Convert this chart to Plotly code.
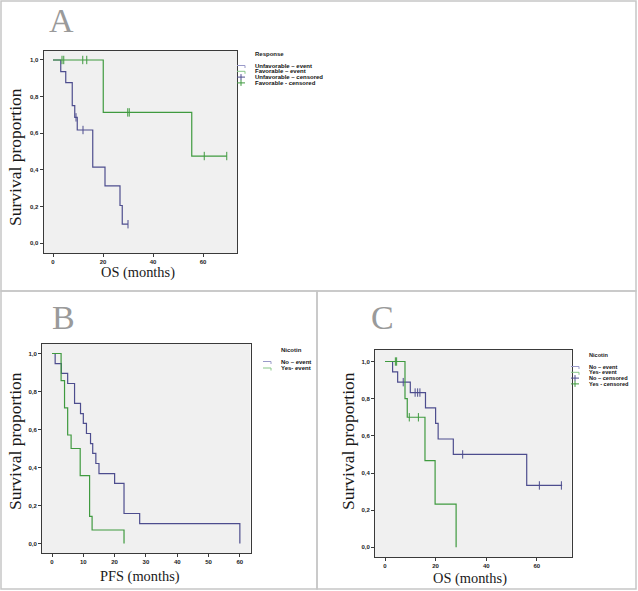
import plotly.graph_objects as go

W, H = 638, 591

# Panel A: OS by response
a_unfav_t = [0, 3.1, 5.1, 7.7, 8.7, 9.7, 15.9, 20.8, 26.8, 27.7, 30]
a_unfav_s = [1.0, 0.937, 0.876, 0.751, 0.687, 0.618, 0.415, 0.313, 0.206, 0.104, 0.104]
a_unfav_cens_t = [9.2, 12, 30]
a_unfav_cens_s = [0.687, 0.618, 0.104]
a_fav_t = [0, 20.1, 55.5, 69.5]
a_fav_s = [1.0, 0.714, 0.476, 0.476]
a_fav_cens_t = [3.6, 4.3, 11.9, 13.5, 29.9, 30.5, 60.5, 69.5]
a_fav_cens_s = [1.0, 1.0, 1.0, 1.0, 0.714, 0.714, 0.476, 0.476]

# Panel B: PFS by nicotin
b_no_t = [0, 1, 3, 5, 7.2, 9.1, 10, 11, 12.3, 13, 14, 15, 20, 23, 28, 60]
b_no_s = [1.0, 0.947, 0.895, 0.842, 0.737, 0.684, 0.632, 0.579, 0.526, 0.474,
          0.421, 0.368, 0.316, 0.158, 0.105, 0.0]
b_yes_t = [0, 2.9, 4, 5, 6.1, 9, 12, 12.8, 23]
b_yes_s = [1.0, 0.857, 0.714, 0.571, 0.5, 0.357, 0.143, 0.071, 0.0]

# Panel C: OS by nicotin
c_no_t = [0, 3, 5, 10, 16, 20, 21, 27, 56, 70]
c_no_s = [1.0, 0.944, 0.889, 0.833, 0.75, 0.667, 0.583, 0.5, 0.333, 0.333]
c_no_cens_t = [7.2, 11.9, 12.9, 13.8, 30.7, 61, 69.7]
c_no_cens_s = [0.889, 0.833, 0.833, 0.833, 0.5, 0.333, 0.333]
c_yes_t = [0, 7.9, 8.8, 15.8, 19.8, 28.1]
c_yes_s = [1.0, 0.8, 0.7, 0.467, 0.233, 0.0]
c_yes_cens_t = [4.1, 4.6, 9.6, 13.2]
c_yes_cens_s = [1.0, 1.0, 0.7, 0.7]

y_ticks = [0.0, 0.2, 0.4, 0.6, 0.8, 1.0]

legend_a = ["Unfavorable – event", "Favorable – event", "Unfavorable – censored", "Favorable - censored"]
legend_b = ["No – event", "Yes- event"]
legend_c = ["No – event", "Yes- event", "No – censored", "Yes - censored"]

BLUE = "#4d4d8e"
GREEN = "#3f9a3f"
BLUE_L = "#9a9ac9"
GREEN_L = "#88c788"


def px(x):
    return x / W


def py(y):
    return 1 - y / H


fig = go.Figure()


def add_curve(t, s, color, ax):
    fig.add_trace(go.Scatter(x=t, y=s, mode="lines", line=dict(color=color, width=1.2, shape="hv"),
                             xaxis="x" + ax, yaxis="y" + ax, showlegend=False, hoverinfo="skip"))


def add_cens(t, s, color, ax):
    fig.add_trace(go.Scatter(x=t, y=s, mode="markers",
                             marker=dict(symbol="line-ns-open", size=6, color=color,
                                         line=dict(color=color, width=1)),
                             xaxis="x" + ax, yaxis="y" + ax, showlegend=False, hoverinfo="skip"))


add_curve(a_unfav_t, a_unfav_s, BLUE, "")
add_curve(a_fav_t, a_fav_s, GREEN, "")
add_cens(a_unfav_cens_t, a_unfav_cens_s, BLUE, "")
add_cens(a_fav_cens_t, a_fav_cens_s, GREEN, "")

add_curve(b_no_t, b_no_s, BLUE, "2")
add_curve(b_yes_t, b_yes_s, GREEN, "2")

add_curve(c_no_t, c_no_s, BLUE, "3")
add_curve(c_yes_t, c_yes_s, GREEN, "3")
add_cens(c_no_cens_t, c_no_cens_s, BLUE, "3")
add_cens(c_yes_cens_t, c_yes_cens_s, GREEN, "3")

tick_font = dict(family="Liberation Sans", size=6, color="#222", weight="bold")


def axes(xdom, ydom, xr, yr, dtick):
    xa = dict(domain=[px(xdom[0]), px(xdom[1])], range=xr, dtick=dtick, tick0=0,
              showgrid=False, zeroline=False, showline=True, mirror=True,
              linecolor="#3a3a3a", linewidth=1, ticks="outside", ticklen=3,
              tickcolor="#3a3a3a", tickfont=tick_font, fixedrange=True)
    ya = dict(domain=[py(ydom[1]), py(ydom[0])], range=yr, tickvals=y_ticks,
              tickformat=".1f", showgrid=False, zeroline=False, showline=True, mirror=True,
              linecolor="#3a3a3a", linewidth=1, ticks="outside", ticklen=3,
              tickcolor="#3a3a3a", tickfont=tick_font, fixedrange=True)
    return xa, ya


xa1, ya1 = axes((43.5, 237), (51, 253), [-3.8, 73.6], [-0.053, 1.049], 20)
xa2, ya2 = axes((42, 250.5), (344, 553), [-3.2, 63.4], [-0.05, 1.05], 10)
xa3, ya3 = axes((375, 571.5), (350, 557), [-3.95, 73.7], [-0.052, 1.062], 20)
ya2["anchor"] = "x2"
xa2["anchor"] = "y2"
ya3["anchor"] = "x3"
xa3["anchor"] = "y3"

annotations = []
shapes = []


def text(x, y, s, size, family, color, angle=0, anchor="center", weight="normal"):
    annotations.append(dict(x=px(x), y=py(y), xref="paper", yref="paper", text=s,
                            showarrow=False, xanchor=anchor, yanchor="middle", textangle=angle,
                            font=dict(family=family, size=size, color=color, weight=weight)))


serif = "Liberation Serif"
# panel letters
text(61, 21, "A", 34, serif, "#9a9a9a")
text(63, 317, "B", 34, serif, "#9a9a9a")
text(382, 318, "C", 34, serif, "#9a9a9a")
# axis titles
text(15, 157, "Survival proportion", 17.5, serif, "#1a1a1a", angle=-90)
text(138, 273, "OS (months)", 14.4, serif, "#1a1a1a")
text(15, 441, "Survival proportion", 17.5, serif, "#1a1a1a", angle=-90)
text(140, 576, "PFS (months)", 14.4, serif, "#1a1a1a")
text(348, 441, "Survival proportion", 17.5, serif, "#1a1a1a", angle=-90)
text(470, 578, "OS (months)", 14.4, serif, "#1a1a1a")


def legend(xt, yt, title, labels, colors, kinds, step=5.8, size=6):
    text(xt, yt, title, size, "Liberation Sans", "#222", anchor="left", weight="bold")
    for i, (lab, col, kind) in enumerate(zip(labels, colors, kinds)):
        y = yt + 11.5 + i * step
        text(xt, y, lab, size, "Liberation Sans", "#111", anchor="left", weight="bold")
        x0, x1 = xt - 16, xt - 8
        shapes.append(dict(type="line", xref="paper", yref="paper", x0=px(x0), x1=px(x1),
                           y0=py(y), y1=py(y), line=dict(color=col, width=1)))
        if kind == "event":
            shapes.append(dict(type="line", xref="paper", yref="paper", x0=px(x1), x1=px(x1),
                               y0=py(y), y1=py(y + 2.5), line=dict(color=col, width=1)))
        else:
            xm = (x0 + x1) / 2
            shapes.append(dict(type="line", xref="paper", yref="paper", x0=px(xm), x1=px(xm),
                               y0=py(y - 3), y1=py(y + 3), line=dict(color=col, width=1)))


legend(253, 54, "Response", legend_a, [BLUE_L, GREEN_L, BLUE, GREEN],
       ["event", "event", "cens", "cens"])
legend(279, 350, "Nicotin", legend_b, [BLUE_L, GREEN_L], ["event", "event"], step=6.5)
legend(587, 355, "Nicotin", legend_c, [BLUE_L, GREEN_L, BLUE, GREEN],
       ["event", "event", "cens", "cens"], size=5.6)

# panel frames
for x0, y0, x1, y1 in [(1, 1, 636, 291), (1, 291, 317, 589), (317, 291, 636, 589)]:
    shapes.append(dict(type="rect", xref="paper", yref="paper", x0=px(x0), x1=px(x1),
                       y0=py(y1), y1=py(y0), line=dict(color="#c6c6c6", width=1.5),
                       layer="below"))

fig.update_layout(
    width=W, height=H, margin=dict(l=0, r=0, t=0, b=0),
    paper_bgcolor="white", plot_bgcolor="#f0f0f0",
    separators=",.",
    xaxis=xa1, yaxis=ya1, xaxis2=xa2, yaxis2=ya2, xaxis3=xa3, yaxis3=ya3,
    annotations=annotations, shapes=shapes, showlegend=False,
)

fig.write_html("out.html", config={"displayModeBar": False},
               post_script="document.body.style.margin='0';document.body.style.overflow='hidden';")
